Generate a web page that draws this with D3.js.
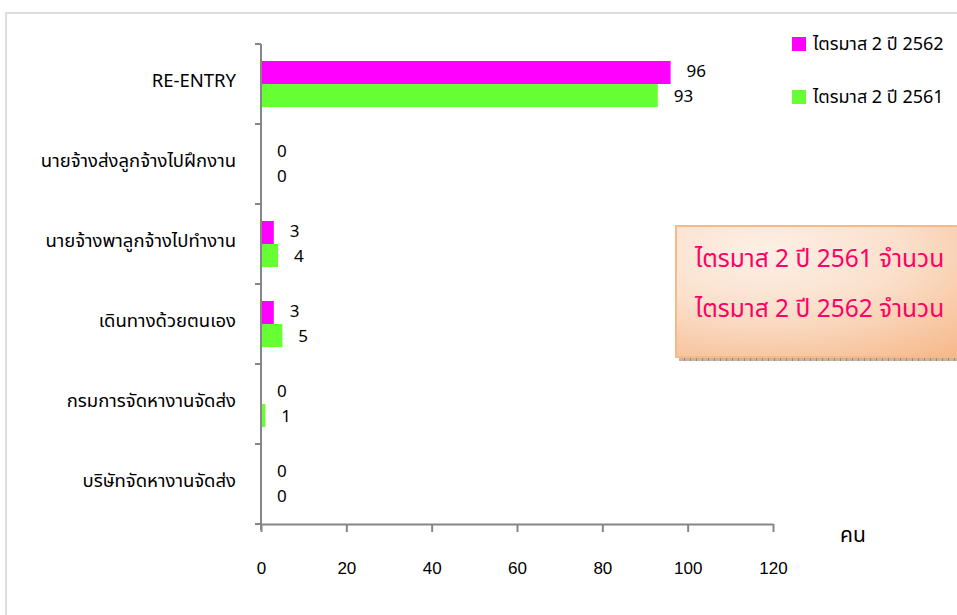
<!DOCTYPE html>
<html><head><meta charset="utf-8">
<script src="https://cdn.jsdelivr.net/npm/d3@7/dist/d3.min.js"></script>
<style>
html,body{margin:0;padding:0;background:#fff;overflow:hidden;}
svg{display:block;font-family:Tahoma,"Noto Sans","Noto Sans Thai",sans-serif;}
</style></head><body>
<svg id="c" width="957" height="615"></svg>
<script>
const categories = ["RE-ENTRY","นายจ้างส่งลูกจ้างไปฝึกงาน","นายจ้างพาลูกจ้างไปทำงาน","เดินทางด้วยตนเอง","กรมการจัดหางานจัดส่ง","บริษัทจัดหางานจัดส่ง"];
const series2562 = [96,0,3,3,0,0];
const series2561 = [93,0,4,5,1,0];
const seriesNames = ["ไตรมาส 2 ปี 2562","ไตรมาส 2  ปี 2561"];
const seriesColors = ["#ff00ff","#66ff33"];
const xTicks = [0,20,40,60,80,100,120];
const unitLabel = "คน";
const noteLines = ["ไตรมาส 2 ปี 2561 จำนวน","ไตรมาส 2 ปี 2562 จำนวน"];

const svg = d3.select("#c");
// frame
svg.append("rect").attr("x",6).attr("y",13).attr("width",980).attr("height",640)
  .attr("fill","#fff").attr("stroke","#dcdce4").attr("stroke-width",2);

const x = d3.scaleLinear().domain([0,120]).range([261,773]);
const y = d3.scaleBand().domain(categories).range([44,524]);
const inner = d3.scaleBand().domain([0,1]).range([0,46]);
const series = [series2562, series2561];

// bars
series.forEach((vals,si)=>{
  svg.append("g").selectAll("rect").data(vals).join("rect")
    .attr("x",x(0))
    .attr("y",(d,i)=>y(categories[i])+(y.bandwidth()-46)/2+inner(si))
    .attr("width",d=>x(d)-x(0))
    .attr("height",inner.bandwidth())
    .attr("fill",seriesColors[si]);
  svg.append("g").selectAll("text").data(vals).join("text")
    .attr("x",d=>x(d)+16)
    .attr("y",(d,i)=>y(categories[i])+(y.bandwidth()-46)/2+inner(si)+inner.bandwidth()/2+(si===0?-1:1))
    .attr("dy","0.35em")
    .attr("font-size",17).attr("fill","#000")
    .text(d=>d);
});

// y axis
const yAxis = svg.append("g").attr("transform",`translate(${x(0)},0)`);
yAxis.append("line").attr("x1",0).attr("x2",0).attr("y1",44).attr("y2",530).attr("stroke","#868686").attr("stroke-width",2);
const yEdges = categories.map(c=>y(c)).concat([524]);
yAxis.selectAll("line.t").data(yEdges).join("line").attr("class","t")
  .attr("x1",-6).attr("x2",0).attr("y1",d=>d).attr("y2",d=>d).attr("stroke","#868686").attr("stroke-width",2);
svg.append("g").selectAll("text").data(categories).join("text")
  .attr("x",236).attr("y",d=>y(d)+y.bandwidth()/2-3).attr("dy","0.35em")
  .attr("text-anchor","end").attr("font-size",18.5).attr("fill","#000").text(d=>d);

// x axis
const xAxis = d3.axisBottom(x).tickValues(xTicks).tickSize(8).tickPadding(30).tickSizeOuter(0);
const gx = svg.append("g").attr("transform","translate(0,524)").call(xAxis);
gx.select(".domain").attr("stroke","#868686").attr("stroke-width",2);
gx.selectAll(".tick line").attr("stroke","#868686").attr("stroke-width",2);
gx.selectAll(".tick text").attr("font-size",17).attr("fill","#000").attr("font-family",null);
svg.append("text").attr("x",840).attr("y",535).attr("dy","0.35em").attr("font-size",21).attr("fill","#000").text(unitLabel);

// legend
const lg = svg.append("g");
seriesNames.forEach((n,i)=>{
  const ly = [44,97][i];
  lg.append("rect").attr("x",792).attr("y",ly-7).attr("width",14).attr("height",14).attr("fill",seriesColors[i]);
  lg.append("text").attr("x",813).attr("y",ly).attr("dy","0.35em").attr("font-size",18).attr("fill","#000").text(n);
});

// note box
const defs = svg.append("defs");
const grad = defs.append("radialGradient").attr("id","ng").attr("cx","0.3").attr("cy","0.2").attr("r","1");
grad.append("stop").attr("offset","0").attr("stop-color","#fdf0e6");
grad.append("stop").attr("offset","0.45").attr("stop-color","#fbe0cc");
grad.append("stop").attr("offset","1").attr("stop-color","#f6b98b");
const pat = defs.append("pattern").attr("id","pp").attr("width",6).attr("height",4).attr("patternUnits","userSpaceOnUse");
pat.append("rect").attr("width",6).attr("height",4).attr("fill","#c9b59f");
pat.append("rect").attr("width",1).attr("height",4).attr("fill","#9c8a77");
svg.append("rect").attr("x",679).attr("y",356).attr("width",300).attr("height",5).attr("fill","url(#pp)");
svg.append("rect").attr("x",676).attr("y",226).attr("width",300).attr("height",131)
  .attr("fill","url(#ng)").attr("stroke","#f5b98a").attr("stroke-width",2);
svg.append("g").selectAll("text").data(noteLines).join("text")
  .attr("x",695).attr("y",(d,i)=>258+i*50).attr("dy","0.35em")
  .attr("font-size",24.5).attr("fill","#ff0066").text(d=>d);
</script>
</body></html>
